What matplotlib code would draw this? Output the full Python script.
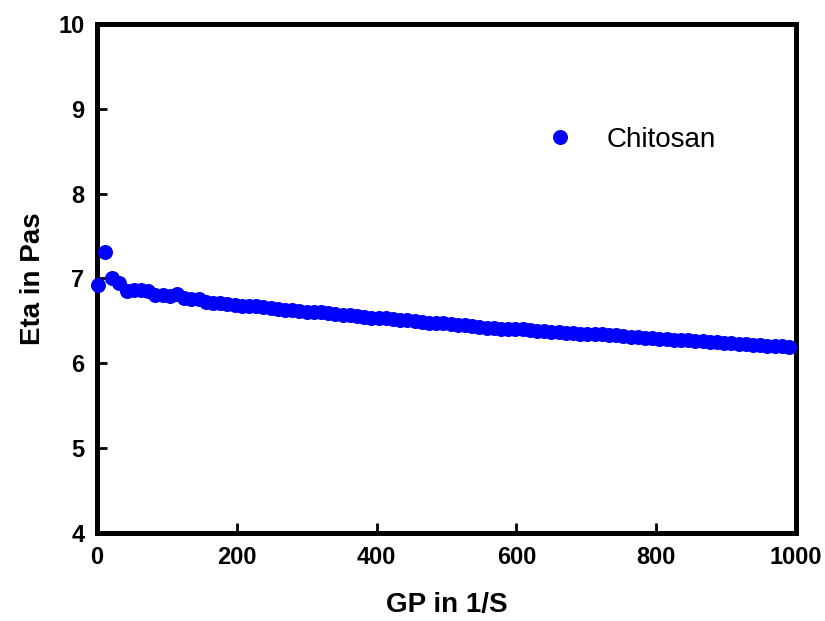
import matplotlib
matplotlib.use("Agg")
import matplotlib.pyplot as plt

plt.rcParams['font.family'] = ['Liberation Sans', 'DejaVu Sans']

# shear rate (1/s) and viscosity (Pa s)
gp = [1.0 + 10.3 * i for i in range(97)]
eta = [6.92, 7.31, 7.01, 6.95, 6.85, 6.86, 6.86, 6.85, 6.81, 6.80,
       6.79, 6.82, 6.77, 6.76, 6.76, 6.72, 6.71, 6.71, 6.70, 6.69,
       6.68, 6.67, 6.67, 6.66, 6.65, 6.64, 6.63, 6.63, 6.62, 6.61,
       6.60, 6.60, 6.59, 6.58, 6.57, 6.57, 6.56, 6.55, 6.54, 6.54,
       6.53, 6.52, 6.51, 6.51, 6.50, 6.49, 6.48, 6.48, 6.47, 6.46,
       6.45, 6.45, 6.44, 6.43, 6.42, 6.42, 6.41, 6.41, 6.40, 6.40,
       6.39, 6.38, 6.38, 6.37, 6.37, 6.36, 6.36, 6.35, 6.35, 6.34,
       6.34, 6.33, 6.33, 6.32, 6.31, 6.31, 6.30, 6.30, 6.29, 6.29,
       6.28, 6.28, 6.27, 6.26, 6.26, 6.25, 6.25, 6.24, 6.24, 6.23,
       6.23, 6.22, 6.22, 6.21, 6.20, 6.20, 6.19]
series_name = "Chitosan"

fig = plt.figure(figsize=(8.25, 6.21), dpi=100)
ax = fig.add_axes([0.1176, 0.1417, 0.8474, 0.8197])

ax.plot(gp, eta, 'o', color='#0000ff', markersize=10.8, markeredgewidth=0,
        label=series_name, clip_on=False, zorder=3)

ax.set_xlim(0, 1000)
ax.set_ylim(4, 10)
ax.set_xticks([0, 200, 400, 600, 800, 1000])
ax.set_yticks([4, 5, 6, 7, 8, 9, 10])

for s in ax.spines.values():
    s.set_linewidth(3.6)
ax.tick_params(direction='in', length=7, width=2, labelsize=17, pad=9)
for lab in ax.get_xticklabels() + ax.get_yticklabels():
    lab.set_fontweight('bold')

ax.set_xlabel("GP in 1/S", fontsize=20, fontweight='bold', labelpad=17)
ax.set_ylabel("Eta in Pas", fontsize=20, fontweight='bold', labelpad=9)

ax.legend(frameon=False, loc='center left', bbox_to_anchor=(0.622, 0.772),
          fontsize=20, handletextpad=0.7, borderaxespad=0, borderpad=0)

fig.savefig("out.png", dpi=100)
